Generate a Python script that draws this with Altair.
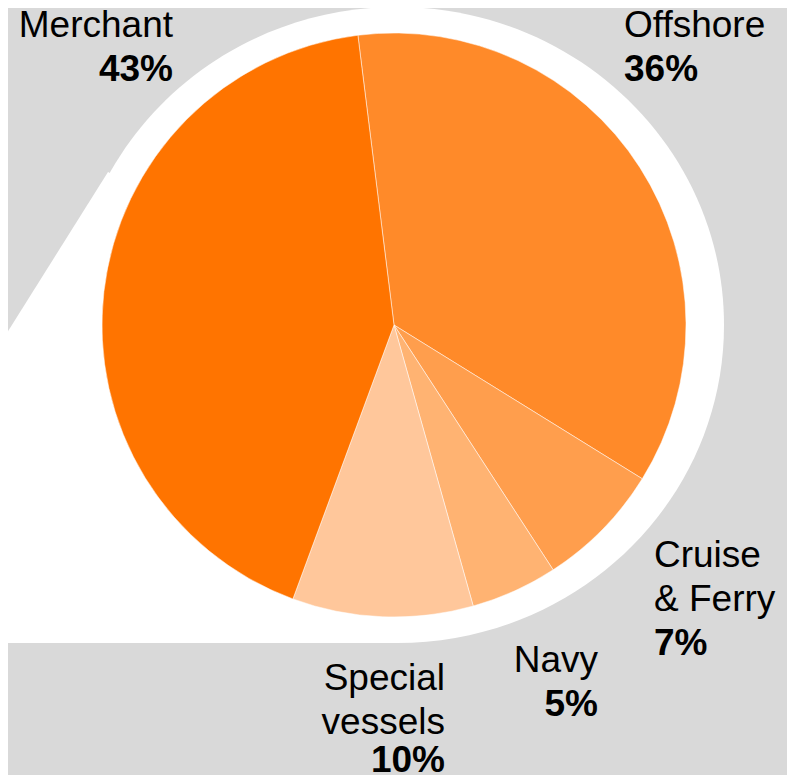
import math
import altair as alt
import pandas as pd

# ---- data (clockwise from the top) ----
categories = ["Offshore", "Cruise & Ferry", "Navy", "Special vessels", "Merchant"]
shares = [35.8, 7.0, 4.8, 10.0, 42.4]
pct_labels = ["36%", "7%", "5%", "10%", "43%"]
name_lines = ["Offshore", "Cruise\n& Ferry", "Navy", "Special\nvessels", "Merchant"]
colors = ["#FF8A29", "#FF9E4D", "#FFB372", "#FFC79B", "#FF7400"]

# ---- layout (page pixel coordinates) ----
OFF = 8
W, H = 779, 767
label_x = [624, 654, 598, 445, 173]
label_y = [37, 567, 672, 690, 37]
label_align = ["left", "left", "right", "right", "right"]
LINE_H = 44
FONT = "Liberation Sans"
FSIZE = 37
Y_MAX_TEXT = OFF + H - 3

pie_cx, pie_cy, pie_r = 394, 325, 292
ell_cx, ell_cy, ell_rx, ell_ry = 397, 325, 327, 318
callout_x = [0, 108, 397]
callout_top = [344, 172, 325]
callout_bottom = 643

start = 2 * math.pi - 0.124

xs = alt.Scale(domain=[OFF, OFF + W], nice=False, zero=False)
ys = alt.Scale(domain=[OFF, OFF + H], nice=False, zero=False, reverse=True)

pie_df = pd.DataFrame({
    "category": categories,
    "share": shares,
    "idx": list(range(len(categories))),
})

n_lines = [s.count("\n") + 1 for s in name_lines]
lab_df = pd.DataFrame({
    "name": name_lines,
    "pct": pct_labels,
    "x": label_x,
    "y": label_y,
    "py": [min(y + LINE_H * n, Y_MAX_TEXT) for y, n in zip(label_y, n_lines)],
    "align": label_align,
})

callout_df = pd.DataFrame({"x": callout_x, "y": callout_top, "y2": [callout_bottom] * 3})

callout = alt.Chart(callout_df).mark_area(color="white", opacity=1).encode(
    x=alt.X("x:Q", scale=xs, axis=None),
    y=alt.Y("y:Q", scale=ys, axis=None),
    y2="y2:Q",
)

ratio = ell_ry / ell_rx
ell_path = f"M -1 0 A 1 {ratio:.4f} 0 1 1 1 0 A 1 {ratio:.4f} 0 1 1 -1 0 Z"
ellipse = alt.Chart(pd.DataFrame({"a": [1]})).mark_point(
    shape=ell_path, filled=True, fill="white", opacity=1, strokeWidth=0,
    size=(2 * ell_rx) ** 2,
).encode(
    x=alt.value(ell_cx - OFF),
    y=alt.value(ell_cy - OFF),
)

pie = alt.Chart(pie_df).mark_arc(
    outerRadius=pie_r, stroke="white", strokeWidth=0.5
).encode(
    theta=alt.Theta("share:Q", stack=True,
                    scale=alt.Scale(domain=[0, 100], range=[start, start + 2 * math.pi])),
    color=alt.Color("category:N", scale=alt.Scale(domain=categories, range=colors), legend=None),
    order=alt.Order("idx:Q"),
    x=alt.value(pie_cx - OFF),
    y=alt.value(pie_cy - OFF),
)

text_layers = []
for al in ["left", "right"]:
    base = alt.Chart(lab_df).transform_filter(alt.datum.align == al)
    names = base.mark_text(
        align=al, baseline="alphabetic", font=FONT, fontSize=FSIZE,
        color="black", lineBreak="\n", lineHeight=LINE_H,
    ).encode(
        x=alt.X("x:Q", scale=xs, axis=None),
        y=alt.Y("y:Q", scale=ys, axis=None),
        text="name:N",
    )
    pcts = base.mark_text(
        align=al, baseline="alphabetic", font=FONT, fontSize=FSIZE,
        fontWeight="bold", color="black",
    ).encode(
        x=alt.X("x:Q", scale=xs, axis=None),
        y=alt.Y("py:Q", scale=ys, axis=None),
        text="pct:N",
    )
    text_layers += [names, pcts]

chart = alt.layer(callout, ellipse, pie, *text_layers).properties(
    width=W, height=H, padding=0, background="#D9D9D9",
    autosize=alt.AutoSizeParams(type="none"),
).configure_view(stroke=None)

chart.save("out.html", embed_options={"renderer": "svg", "actions": False})
